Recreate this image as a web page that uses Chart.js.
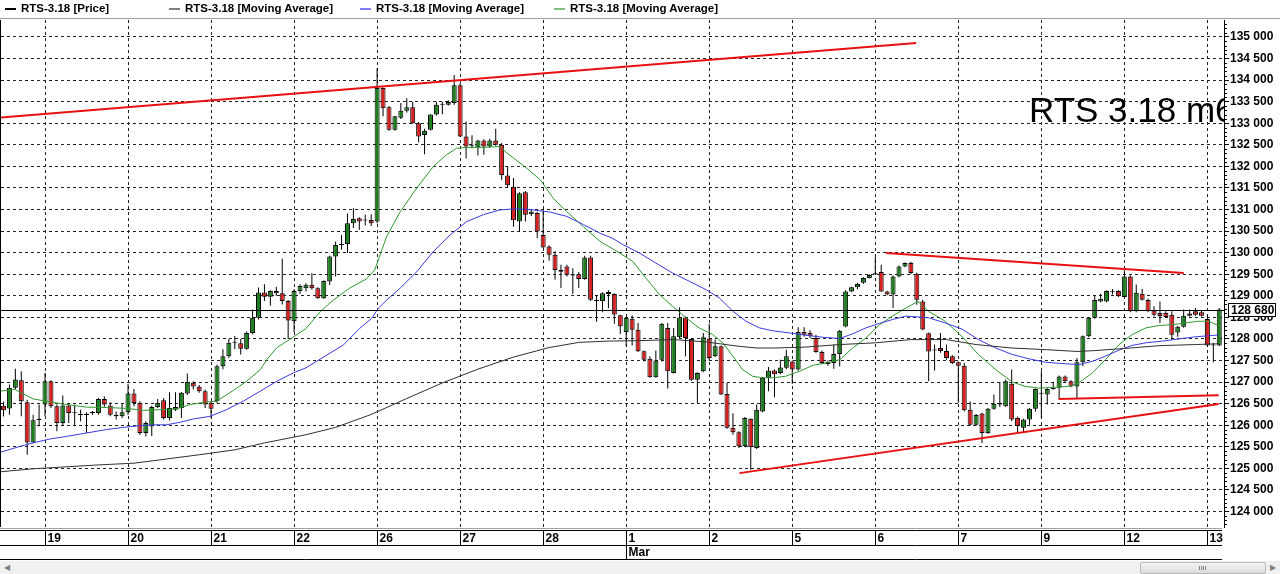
<!DOCTYPE html>
<html lang="ru">
<head>
<meta charset="UTF-8">
<title>RTS-3.18</title>
<script src="https://cdn.jsdelivr.net/npm/chart.js"></script>
<style>
  body { margin: 0; background: #fff; width: 1280px; height: 574px; overflow: hidden; position: relative; }
  #chart { position: absolute; left: 0; top: 0; }
  #legend { position: absolute; left: 0; top: 0; width: 1280px; height: 18px; border-bottom: 1px solid #a0a0a0;
            font: bold 11.5px 'Liberation Sans', Arial, sans-serif; color: #000; }
  .item { position: absolute; top: 2px; white-space: nowrap; line-height: 13px; }
  .item i { position: absolute; left: -16px; top: 6px; width: 11px; height: 2px; }
  #scroll { position: absolute; left: 0; top: 561px; width: 1280px; height: 13px; background: #f0f0f0; }
  #scroll .thumb { position: absolute; left: 1140px; top: 1px; width: 124px; height: 10px; border: 1px solid #b8b8b8;
                   border-radius: 2px; background: linear-gradient(#f4f4f4, #dcdcdc); }
  #scroll .thumb b { position: absolute; left: 58px; top: 3px; width: 7px; height: 4px;
                     background: repeating-linear-gradient(90deg, #888 0 1px, transparent 1px 2px); }
  #scroll .arr { position: absolute; top: 0; font: 8px sans-serif; color: #808080; line-height: 13px; }
</style>
</head>
<body>
<canvas id="chart" width="1280" height="574"></canvas>
<div id="legend">
  <span class="item" style="left:21px"><i style="background:#000"></i>RTS-3.18 [Price]</span>
  <span class="item" style="left:185px"><i style="background:#808080"></i>RTS-3.18 [Moving Average]</span>
  <span class="item" style="left:376px"><i style="background:#8080ff"></i>RTS-3.18 [Moving Average]</span>
  <span class="item" style="left:570px"><i style="background:#80c080"></i>RTS-3.18 [Moving Average]</span>
</div>
<div id="scroll">
  <span class="arr" style="left:4px">&#9664;</span>
  <div class="thumb"><b></b></div>
  <span class="arr" style="left:1270px">&#9654;</span>
</div>

<script>
// hourly candles, index 0..205
const opens = [
  126450,126385,126866,127045,126530,125600,126150,126480,127020,126440,126050,126455,126290,126250,
  126250,126285,126285,126610,126455,126245,126210,126300,126735,126515,125820,125970,126420,126580,
  126170,126360,126400,126735,126985,126890,126790,126520,126555,127370,127600,127900,127900,127770,
  128140,128490,129075,128980,129110,129060,128880,128410,129110,129176,129254,129176,128945,129330,
  129910,130180,130200,130680,130800,130745,130760,130720,133815,133370,132850,133130,133290,133370,
  133000,132730,132850,133200,133430,133430,133470,133880,132690,132500,132440,132600,132460,132600,
  132500,131790,131530,130720,131400,130890,130920,130410,130140,129950,129600,129680,129500,129500,
  129390,129890,128890,128880,129040,129040,128550,128160,128470,128215,127715,127540,127110,127520,
  128255,127210,128040,128500,128000,127055,127250,128010,127600,127830,126725,125940,125840,125510,
  126150,125470,126320,127100,127270,127210,127330,127480,127290,128160,128140,128020,127700,127470,
  127440,127650,128290,129100,129200,129300,129410,129500,129550,129100,129030,129450,129680,129760,
  129510,128870,128130,127740,127790,127720,127600,127460,127380,126360,126010,126270,125820,126380,
  126480,126440,126960,126170,125940,126130,126380,126740,126710,126840,126870,127130,127020,126900,
  127460,128060,128490,128870,128870,129080,129110,128975,129450,128640,129050,128900,128660,128600,
  128600,128560,128150,128280,128590,128640,128620,128460,127850,127850
];
const highs = [
  126550,126943,127307,127250,126590,126245,126480,127215,127045,126480,126690,126515,126480,126360,
  126300,126330,126630,126670,126530,126320,126515,126960,126840,126555,126090,126450,126610,126630,
  126765,126765,126770,127200,127020,126930,126830,126550,127400,127760,128000,128070,128000,128170,
  128680,129190,129270,129130,129210,129860,128900,129150,129270,129292,129525,129200,129360,129930,
  130260,130410,130910,131030,130820,130880,130890,134280,133830,133400,133170,133470,133580,133500,
  133030,132870,133210,133500,133500,133530,134120,133930,133040,132720,132620,132630,132640,132870,
  132540,132010,131730,131400,131430,131000,130950,131000,130170,130030,129720,129720,129640,129550,
  129930,129930,129020,129080,129130,129060,128560,128510,128550,128370,127730,127600,127730,128370,
  128370,128255,128735,128520,128020,127230,128140,128350,127990,127850,126980,126280,125860,126190,
  126160,126480,127120,127350,127290,127520,127750,127500,128270,128270,128200,128100,127730,127500,
  127870,128210,129130,129210,129300,129430,129500,129900,129720,129120,129470,129700,129770,129790,
  129540,128910,128150,127870,128140,127870,127620,127480,127440,126550,126260,126290,126400,126710,
  127000,127060,127290,126200,126150,126400,126860,127250,126860,127000,127150,127150,127040,127560,
  128080,128500,129010,129050,129130,129160,129130,129590,129470,129260,129160,128940,128760,128870,
  128640,128640,128300,128680,128680,128720,128670,128540,127910,128720
];
const lows = [
  126200,126245,126830,126210,125315,125590,125975,126210,126400,125860,125990,126050,125975,126090,
  125820,126240,126245,126430,126210,126130,126170,126245,126440,125780,125740,125750,126400,126130,
  126110,126330,126170,126700,126830,126750,126400,126170,126515,127300,127560,127760,127640,127750,
  128110,128450,128880,128770,129000,128800,128000,128160,129050,129100,129140,128930,128930,129250,
  129450,130070,129990,130570,130530,130630,130620,130680,133160,132825,132825,133100,133250,132990,
  132560,132280,132830,133180,133210,133410,133430,132680,132180,132420,132250,132270,132430,132480,
  131690,131500,130600,130490,130720,130850,130340,130100,129810,129370,129180,129450,129040,129180,
  129370,128880,128400,128620,128710,128350,128115,127830,127850,127700,127480,127100,127100,127480,
  126850,127200,128020,127600,127030,126515,127230,127500,127580,126700,125920,125780,125470,125490,
  124970,125450,126300,126790,126650,127180,127300,126960,127260,128050,128020,127680,127420,127380,
  127310,127360,128270,129080,129150,129280,129400,129490,129090,129010,128720,129430,129660,129500,
  128790,128200,127020,127270,127680,127520,127420,126520,126320,125990,125990,125590,125800,126360,
  126420,126420,126100,125820,125830,126010,126320,126170,126480,126820,126610,126990,126880,126630,
  127370,128040,128470,128850,128850,129030,128970,128960,128620,128620,128890,128620,128520,128370,
  128490,127990,128050,128260,128520,128540,128520,127830,127460,127830
];
const closes = [
  126350,126866,127060,126555,125600,126115,126120,127020,126440,126050,126455,126285,126280,126240,
  126240,126285,126610,126480,126245,126210,126300,126735,126515,125820,126050,126420,126515,126170,
  126400,126420,126750,127000,126900,126790,126480,126380,127370,127600,127910,127905,127770,128140,
  128490,129075,128980,129110,129060,128880,128430,129110,129230,129254,129176,128945,129345,129910,
  130180,130190,130680,130780,130720,130750,130680,133815,133350,132850,133160,133290,133370,133000,
  132690,132825,133200,133430,133440,133490,133880,132690,132460,132480,132600,132460,132600,132500,
  131800,131560,130750,131380,130880,130950,130490,130120,129950,129600,129560,129490,129470,129390,
  129890,128910,128880,129060,129090,128565,128295,128490,128215,127715,127520,127110,127500,128350,
  127250,128060,128500,128020,127055,127210,128040,127560,127830,126710,125940,125840,125510,126170,
  125490,126360,127100,127270,127180,127340,127600,127290,128160,128100,128060,127700,127440,127420,
  127650,128190,129100,129200,129275,129410,129480,129510,129100,129030,129450,129680,129760,129530,
  128910,128220,127710,127730,127720,127560,127440,127380,126350,126010,126240,125820,126380,126500,
  126520,127020,126130,125980,126130,126380,126840,126730,126840,126870,127130,127020,126900,127460,
  128060,128490,128900,128930,129110,129090,128990,129450,128640,129070,128910,128640,128560,128530,
  128510,128100,128280,128540,128540,128560,128540,127850,127860,128680
];

// moving averages: [candle index, price]
const maSlowPts = [
  [-0.6,124920],[5,124990],[16,125080],[22,125120],[33,125315],[39,125430],[44,125590],[51,125780],
  [56,125950],[62,126250],[68,126620],[74,126980],[80,127300],[86,127580],[92,127800],[97,127920],
  [102,127950],[107,127960],[113,127985],[118.5,127930],[124,127830],[127,127790],[130,127790],
  [135,127810],[141,127870],[147,127910],[153,127985],[159,127985],[164,127870],[170,127790],
  [176,127750],[181,127710],[184,127730],[190,127790],[195,127845],[201,127870],[205,127890]
];
const maMidPts = [
  [-0.6,125370],[2.8,125510],[5,125590],[7.8,125680],[10.6,125740],[14,125820],[17.4,125900],
  [20.8,125960],[23,125990],[25.3,126010],[27.5,126010],[29.8,126070],[32,126145],[34.8,126205],
  [37.6,126360],[40.4,126555],[43.3,126790],[46.1,127020],[48.9,127215],[51,127330],[57.3,127860],
  [60.1,128250],[62.1,128480],[63.2,128710],[64.6,128900],[66.9,129180],[69.7,129560],[72.5,130030],
  [75.3,130410],[78.1,130720],[80.9,130880],[83.7,130990],[86.5,131020],[89.3,130990],[92.2,130940],
  [95,130840],[97.8,130650],[100.6,130450],[102.6,130340],[104.4,130190],[107.2,129995],[110,129760],
  [112.8,129530],[115.6,129340],[118.5,129140],[120.7,128950],[123,128640],[125.2,128410],
  [127.5,128255],[129.7,128190],[132.5,128140],[135.3,128085],[138.1,128040],[141,128010],
  [143.2,128120],[145.4,128255],[147.7,128360],[149.9,128450],[152.2,128530],[156,128490],
  [158.8,128370],[161.6,128230],[164.4,127985],[167.3,127790],[170.1,127640],[172.9,127540],
  [175.7,127460],[178.5,127430],[181.3,127405],[183.6,127480],[185.8,127600],[188.1,127740],
  [190.3,127850],[192.6,127910],[195.4,127950],[198.2,128000],[201,128050],[203.8,128080],[204.9,128095]
];
const maFastPts = [
  [-0.6,126790],[1.9,126830],[5,126610],[7.8,126540],[10.6,126480],[14,126420],[17.4,126410],
  [20.8,126390],[23.6,126345],[26.4,126360],[29.2,126380],[31.5,126480],[33.7,126530],[35.9,126555],
  [38.8,126810],[41,127020],[43.3,127290],[44.4,127520],[46.1,127800],[48.3,127990],[51,128240],
  [53.4,128630],[55.6,128900],[58.4,129180],[61.2,129390],[62.6,129600],[63.5,129950],[64.6,130370],
  [66.9,130950],[69.7,131500],[72.5,132000],[74.7,132270],[76.4,132420],[78.1,132440],[80.9,132440],
  [83.7,132460],[84.9,132310],[88.2,131960],[90.5,131690],[92.7,131260],[95,130950],[97.8,130600],
  [100.6,130260],[103.8,130000],[106.1,129800],[108.3,129415],[110.6,129030],[112.8,128760],
  [115.1,128490],[117.3,128255],[119.6,128100],[121.3,127910],[123,127600],[124.6,127290],
  [126.3,127135],[128,127100],[129.7,127100],[131.9,127135],[134.2,127250],[136.5,127390],
  [138.7,127440],[141,127520],[143.2,127790],[145.4,128020],[147.7,128330],[149.9,128530],
  [152.2,128720],[154.2,128870],[156,128640],[158.8,128410],[161.6,128060],[164.4,127640],
  [167.3,127290],[170.1,127000],[172.3,126900],[174.6,126860],[177.4,126880],[179.6,126900],
  [181.3,126980],[183.6,127210],[185.8,127520],[188.1,127870],[190.3,128100],[192.6,128255],
  [194.8,128310],[197,128330],[199.3,128370],[201.5,128410],[203.2,128410],[204.9,128310]
];

// hand-drawn trend lines: [index, price] end points
const trendLines = [
  [[-0.6,133130],[153.9,134860]],
  [[124.1,124890],[204.9,126490]],
  [[177.9,126610],[204.9,126695]],
  [[148.8,129990],[199,129530]]
];

const yTicks = [124000,124500,125000,125500,126000,126500,127000,127500,128000,128500,129000,
                129500,130000,130500,131000,131500,132000,132500,133000,133500,134000,134500,135000];
const dayStartIdx = [7,21,35,49,63,77,91,105,119,133,147,161,175,189,203];
const dayLabels = ['19','20','21','22','26','27','28','1','2','5','6','7','9','12','13'];
const monthMarks = [[105,'Mar']];
const lastPrice = 128680;
const watermark = 'RTS 3.18 m60';

const fmt = v => String(v).replace(/\B(?=(\d{3})+(?!\d))/g, ' ');
const idx = opens.map((_, i) => i);
const up = i => closes[i] >= opens[i];
const FONT = "bold 12px 'Liberation Sans', Arial, sans-serif";

const extras = {
  id: 'extras',
  afterDatasetsDraw(chart) {
    const { ctx, chartArea: a, scales: { y } } = chart;
    // last price line
    const py = Math.round(y.getPixelForValue(lastPrice)) + 0.5;
    ctx.save();
    ctx.strokeStyle = '#000'; ctx.lineWidth = 1;
    ctx.beginPath(); ctx.moveTo(a.left, py); ctx.lineTo(a.right, py); ctx.stroke();
    // watermark text, clipped to plot
    ctx.beginPath(); ctx.rect(a.left, a.top, a.right - a.left, a.bottom - a.top); ctx.clip();
    ctx.fillStyle = '#000';
    ctx.font = "35px 'Liberation Sans', Arial, sans-serif";
    ctx.textBaseline = 'alphabetic';
    ctx.fillText(watermark, 1029, 122);
    ctx.restore();
  },
  afterDraw(chart) {
    const { ctx, chartArea: a, scales: { x, y } } = chart;
    ctx.save();
    // left border
    ctx.strokeStyle = '#000'; ctx.lineWidth = 1;
    ctx.beginPath(); ctx.moveTo(0.5, a.top); ctx.lineTo(0.5, a.bottom); ctx.stroke();
    // minor ticks on price axis
    const step = 100;
    for (let v = Math.ceil(y.min / step) * step; v <= y.max; v += step) {
      if (v % 500 === 0) continue;
      const ty = Math.round(y.getPixelForValue(v)) + 0.5;
      ctx.beginPath(); ctx.moveTo(a.right, ty); ctx.lineTo(a.right + 3, ty); ctx.stroke();
    }
    // last price box
    const py = Math.round(y.getPixelForValue(lastPrice));
    ctx.fillStyle = '#fff';
    ctx.fillRect(a.right + 4, py - 7, 48, 14);
    ctx.strokeRect(a.right + 4.5, py - 6.5, 47, 13);
    ctx.fillStyle = '#000'; ctx.font = FONT; ctx.textBaseline = 'middle'; ctx.textAlign = 'left';
    ctx.fillText(fmt(lastPrice), a.right + 7, py + 1);

    // date strip
    const top = 530, mid = 545, bot = 559, right = 1222;
    ctx.strokeStyle = '#000';
    ctx.beginPath();
    ctx.moveTo(0, top + 0.5); ctx.lineTo(right, top + 0.5);
    ctx.moveTo(0, mid + 0.5); ctx.lineTo(right, mid + 0.5);
    ctx.moveTo(0, bot + 0.5); ctx.lineTo(right, bot + 0.5);
    ctx.stroke();
    ctx.strokeStyle = '#a0a0a0';
    ctx.beginPath(); ctx.moveTo(0, top - 1.5); ctx.lineTo(right, top - 1.5); ctx.stroke();
    ctx.strokeStyle = '#000';
    ctx.textBaseline = 'alphabetic';
    dayStartIdx.forEach((d, k) => {
      const dx = Math.round(x.getPixelForValue(d)) + 0.5;
      const isMonth = monthMarks.some(m => m[0] === d);
      ctx.beginPath(); ctx.moveTo(dx, top); ctx.lineTo(dx, isMonth ? bot : mid); ctx.stroke();
      ctx.fillText(dayLabels[k], dx + 2, top + 12);
    });
    monthMarks.forEach(([d, t]) => {
      const dx = Math.round(x.getPixelForValue(d)) + 0.5;
      ctx.fillText(t, dx + 2, mid + 11);
    });
    ctx.restore();
  }
};

new Chart(document.getElementById('chart'), {
  data: {
    datasets: [
      ...trendLines.map(seg => ({
        type: 'line', data: seg.map(([i, v]) => ({ x: i, y: v })),
        borderColor: '#e81010', borderWidth: 2, pointRadius: 0, order: 0
      })),
      { type: 'line', label: 'RTS-3.18 [Moving Average]', data: maSlowPts.map(([i, v]) => ({ x: i, y: v })),
        borderColor: '#303030', borderWidth: 1, pointRadius: 0, order: 1 },
      { type: 'line', label: 'RTS-3.18 [Moving Average]', data: maMidPts.map(([i, v]) => ({ x: i, y: v })),
        borderColor: '#3a3ae0', borderWidth: 1, pointRadius: 0, order: 1 },
      { type: 'line', label: 'RTS-3.18 [Moving Average]', data: maFastPts.map(([i, v]) => ({ x: i, y: v })),
        borderColor: '#2f9a2f', borderWidth: 1, pointRadius: 0, order: 1 },
      { type: 'bar', label: 'RTS-3.18 [Price]', data: idx.map(i => ({ x: i, y: [opens[i], closes[i]] })),
        backgroundColor: ctx => up(ctx.dataIndex) ? '#1e7d1e' : '#d42020',
        borderColor: '#000', borderWidth: 1, borderSkipped: false, barThickness: 5,
        minBarLength: 1, inflateAmount: 0, grouped: false, order: 2 },
      { type: 'bar', label: 'wick', data: idx.map(i => ({ x: i, y: [lows[i], highs[i]] })),
        backgroundColor: '#000', borderWidth: 0, barThickness: 1, inflateAmount: 0, grouped: false, order: 3 }
    ]
  },
  options: {
    responsive: false, animation: false, devicePixelRatio: 1,
    layout: { padding: { left: 1, top: 20, right: 0, bottom: 47 } },
    plugins: { legend: { display: false }, tooltip: { enabled: false } },
    scales: {
      x: {
        type: 'linear', position: 'bottom', min: -0.42, max: 205.8, offset: false,
        afterBuildTicks: s => { s.ticks = dayStartIdx.map(v => ({ value: v })); },
        afterFit: s => { s.height = 0; },
        grid: { color: '#222', drawTicks: false, offset: false },
        border: { display: false, dash: [3, 3] },
        ticks: { display: false }
      },
      y: {
        type: 'linear', position: 'right', min: 123641, max: 135393,
        afterBuildTicks: s => { s.ticks = yTicks.map(v => ({ value: v })); },
        afterFit: s => { s.width = 56; },
        grid: { color: '#222', tickColor: '#000', tickLength: 5, tickBorderDash: [] },
        border: { display: true, color: '#000', width: 1, dash: [3, 3] },
        ticks: { color: '#000', font: { family: "'Liberation Sans', Arial, sans-serif", size: 12, weight: 'bold' },
                 padding: 1, callback: v => fmt(v) }
      }
    }
  },
  plugins: [extras]
});
</script>
</body>
</html>
